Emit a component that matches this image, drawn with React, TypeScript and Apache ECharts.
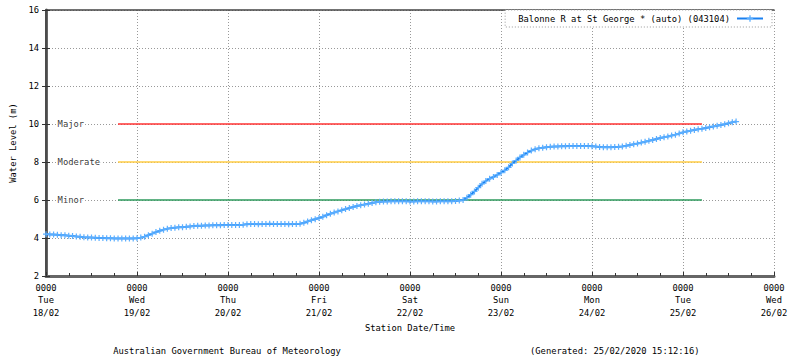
import React, { useEffect, useRef } from "react";
import * as echarts from "echarts";

// ---- data ----
const seriesName = "Balonne R at St George * (auto) (043104)";
// hourly readings starting 0000 Tue 18/02 (m)
const levels = [
  4.20, 4.19, 4.18, 4.17, 4.15, 4.14, 4.12, 4.10, 4.08, 4.06,
  4.04, 4.03, 4.02, 4.01, 4.00, 4.00, 3.99, 3.99, 3.98, 3.98,
  3.98, 3.98, 3.98, 3.98, 3.99, 4.02, 4.07, 4.15, 4.23, 4.31,
  4.38, 4.44, 4.49, 4.52, 4.54, 4.56, 4.57, 4.59, 4.61, 4.63,
  4.64, 4.65, 4.66, 4.66, 4.67, 4.67, 4.67, 4.68, 4.68, 4.68,
  4.68, 4.68, 4.70, 4.73, 4.74, 4.74, 4.73, 4.74, 4.74, 4.75,
  4.74, 4.74, 4.74, 4.74, 4.73, 4.74, 4.74, 4.75, 4.80, 4.87,
  4.93, 4.99, 5.05, 5.12, 5.20, 5.28, 5.34, 5.40, 5.46, 5.52,
  5.58, 5.63, 5.68, 5.72, 5.76, 5.80, 5.84, 5.88, 5.91,
  5.92, 5.92, 5.93, 5.93, 5.93, 5.93, 5.93, 5.92, 5.92, 5.93,
  5.93, 5.93, 5.93, 5.92, 5.92, 5.93, 5.93, 5.93,
  5.93, 5.95, 5.97, 6.00, 6.12, 6.28, 6.45, 6.65, 6.85, 7.00,
  7.12, 7.21, 7.32, 7.44, 7.56, 7.72, 7.92, 8.08, 8.24, 8.38,
  8.50, 8.60, 8.67, 8.72, 8.75, 8.78, 8.80, 8.81, 8.82,
  8.83, 8.83, 8.84, 8.84, 8.84, 8.84, 8.84, 8.84,
  8.83, 8.81, 8.79, 8.77, 8.77, 8.78, 8.79, 8.80, 8.82, 8.85,
  8.89, 8.93, 8.97, 9.02, 9.07, 9.12, 9.16, 9.21, 9.26, 9.30,
  9.34, 9.39, 9.44, 9.50, 9.56, 9.61, 9.65, 9.69, 9.72, 9.75,
  9.79, 9.83, 9.87, 9.91, 9.95, 9.99, 10.04, 10.09, 10.13,
];
const tickTimes = ["0000", "0000", "0000", "0000", "0000", "0000", "0000", "0000", "0000"];
const tickDays = ["Tue", "Wed", "Thu", "Fri", "Sat", "Sun", "Mon", "Tue", "Wed"];
const tickDates = ["18/02", "19/02", "20/02", "21/02", "22/02", "23/02", "24/02", "25/02", "26/02"];
const floodNames = ["Major", "Moderate", "Minor"];
const floodLevels = [10, 8, 6];
const floodColors = ["#ff3333", "#ffcc44", "#2e9a5c"];
const floodStartHour = 19;
const floodEndHour = 173;

const FONT = "DejaVu Sans Mono";
const FS = 8.8;
const LABEL_HOUR = 2.8; // layout: flood label anchor

export default function App() {
  const ref = useRef<HTMLDivElement>(null);
  useEffect(() => {
    const chart = echarts.init(ref.current!, null, { renderer: "svg" });
    const seriesData = levels.map((v, i) => [i, v]);
    const floodSeries = floodLevels.map((lv, i) => ({
      name: floodNames[i],
      type: "line",
      data: [
        [floodStartHour, lv],
        [floodEndHour, lv],
      ],
      symbol: "none",
      lineStyle: { color: floodColors[i], width: 1.5 },
      silent: true,
      z: 1,
    }));
    const plus = "path://M2,0H3V2H5V3H3V5H2V3H0V2H2Z";
    const txt = { fontFamily: FONT, fontSize: FS, color: "#000" };
    chart.setOption({
      animation: false,
      backgroundColor: "#fff",
      textStyle: { fontFamily: FONT },
      grid: { left: 44, right: 26, top: 10, bottom: 82, containLabel: false },
      title: [
        {
          text: "Australian Government Bureau of Meteorology",
          left: 227,
          top: 346,
          padding: 0,
          textAlign: "center",
          textStyle: { ...txt, fontWeight: "normal" },
        },
        {
          text: "(Generated: 25/02/2020 15:12:16)",
          left: 530,
          top: 346,
          padding: 0,
          textStyle: { ...txt, fontWeight: "normal" },
        },
      ],
      legend: {
        data: [seriesName],
        right: 28,
        top: 10,
        align: "right",
        padding: [4, 8, 4, 13],
        itemWidth: 26,
        itemHeight: 8,
        itemGap: 5,
        backgroundColor: "#fff",
        borderColor: "#999",
        borderWidth: 1,
        borderType: [1, 2],
        textStyle: { ...txt, padding: [0, 2, 0, 0] },
      },
      xAxis: [
        {
          type: "value",
          min: 0,
          max: 192,
          interval: 24,
          name: "Station Date/Time",
          nameLocation: "middle",
          nameGap: 46,
          nameTextStyle: txt,
          axisLine: { show: true, lineStyle: { color: "#666", width: 3 } },
          axisTick: { show: true, inside: true, length: 4, lineStyle: { color: "#333" } },
          minorTick: { show: true, splitNumber: 4, length: 3, lineStyle: { color: "#333" } },
          axisLabel: {
            ...txt,
            margin: 6,
            lineHeight: 12.3,
            formatter: (v: number) => {
              const k = Math.round(v / 24);
              return `${tickTimes[k]}\n${tickDays[k]}\n${tickDates[k]}`;
            },
          },
          splitLine: { show: true, lineStyle: { color: "#999", type: [1, 2], width: 1 } },
        },
        {
          type: "value",
          position: "top",
          min: 0,
          max: 192,
          interval: 24,
          axisLine: { show: true, lineStyle: { color: "#444", width: 1.5 } },
          axisTick: { show: false },
          axisLabel: { show: false },
          splitLine: { show: false },
        },
      ],
      yAxis: [
        {
          type: "value",
          min: 2,
          max: 16,
          interval: 2,
          name: "Water Level (m)",
          nameLocation: "middle",
          nameGap: 29,
          nameTextStyle: txt,
          axisLine: { show: true, lineStyle: { color: "#666", width: 3 } },
          axisTick: { show: true, inside: true, length: 4, lineStyle: { color: "#333" } },
          axisLabel: { ...txt, margin: 7 },
          splitLine: { show: true, lineStyle: { color: "#999", type: [1, 2], width: 1 } },
        },
        {
          type: "value",
          position: "right",
          min: 2,
          max: 16,
          interval: 2,
          axisLine: { show: true, lineStyle: { color: "#444", width: 1.5 } },
          axisTick: { show: true, inside: true, length: 4, lineStyle: { color: "#333" } },
          axisLabel: { show: false },
          splitLine: { show: false },
        },
      ],
      series: [
        ...floodSeries,
        {
          name: "floodLabels",
          type: "scatter",
          data: floodLevels.map((lv) => [LABEL_HOUR, lv]),
          symbolSize: 0,
          silent: true,
          z: 3,
          label: {
            show: true,
            position: "right",
            distance: 0,
            ...txt,
            backgroundColor: "#fff",
            padding: [1, 1],
            formatter: (p: any) => floodNames[p.dataIndex],
          },
        },
        {
          name: seriesName,
          type: "line",
          data: seriesData,
          symbol: plus,
          symbolSize: 6,
          showAllSymbol: true,
          itemStyle: { color: "#5aaeff" },
          lineStyle: { color: "#1a80f0", width: 2 },
          z: 5,
        },
      ],
    });
    return () => chart.dispose();
  }, []);
  return (
    <div
      ref={ref}
      style={{ position: "fixed", left: 0, top: 0, width: 800, height: 358 }}
    />
  );
}
